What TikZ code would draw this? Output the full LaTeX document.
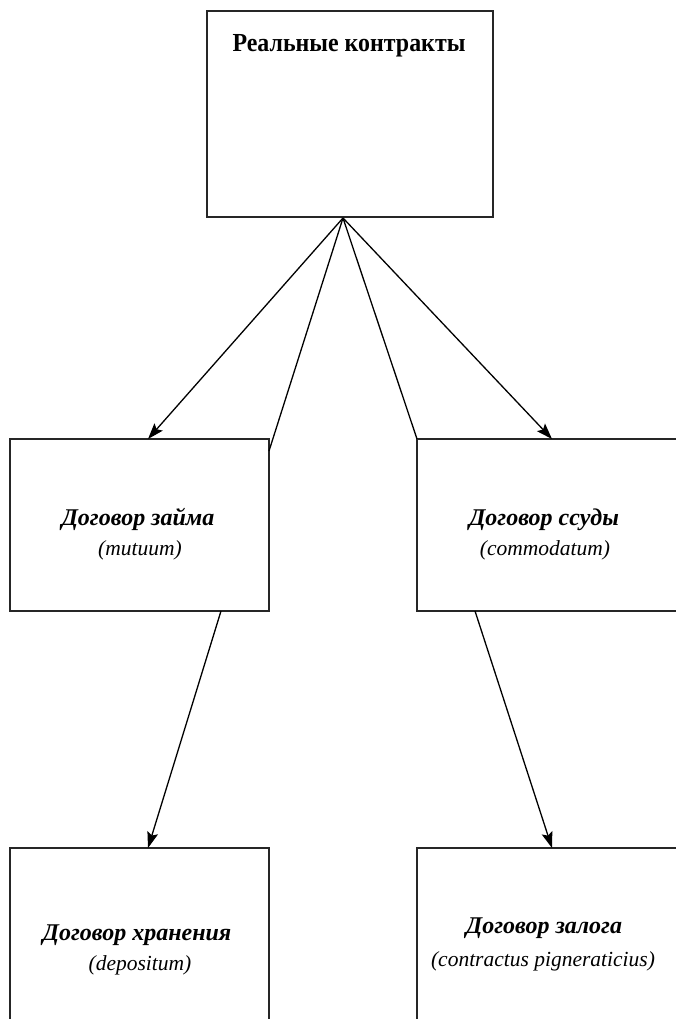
\documentclass[tikz,border=0pt]{standalone}
\usepackage{fontspec}
\setmainfont{Liberation Serif}
\newfontfamily\ttlfont[FakeStretch=0.92]{Liberation Serif}
\usetikzlibrary{arrows.meta}
\begin{document}
\begin{tikzpicture}[x=1pt,y=-1pt,
  box/.style={draw=black!85,line width=1.6pt,rectangle,inner sep=0pt,fill=none},
  ttl/.style={font=\ttlfont\bfseries\fontsize{26}{30}\selectfont,anchor=base,inner sep=0pt},
  nm/.style={font=\bfseries\itshape\fontsize{24}{28}\selectfont,anchor=base,inner sep=0pt},
  lat/.style={font=\itshape\fontsize{21.5}{26}\selectfont,anchor=base,inner sep=0pt},
  conn/.style={line width=1.3pt,black},
  arr/.style={conn,-{Stealth[length=16pt,width=11pt,inset=3pt]}}]
\clip (0,0) rectangle (676,1019);
\fill[white] (0,0) rectangle (676,1019);
% boxes
\node[box,minimum width=286pt,minimum height=206pt] (top) at (350,114) {};
\node[box,minimum width=259pt,minimum height=172pt] (zaim) at (139.5,525) {};
\node[box,minimum width=283pt,minimum height=172pt] (ssud) at (558.5,525) {};
\node[box,minimum width=259pt,minimum height=192pt] (hran) at (139.5,944) {};
\node[box,minimum width=283pt,minimum height=192pt] (zalog) at (558.5,944) {};
% texts
\node[ttl] (t0) at (349,52) {Реальные контракты};
\node[nm] (t1) at (138,525) {Договор займа};
\node[lat] (t1l) at (140,555) {(mutuum)};
\node[nm] (t2) at (544,525) {Договор ссуды};
\node[lat] (t2l) at (545,555) {(commodatum)};
\node[nm] (t3) at (137,940) {Договор хранения};
\node[lat] (t3l) at (140,970) {(depositum)};
\node[nm] (t4) at (544,933) {Договор залога};
\node[lat] (t4l) at (543,966) {(contractus pigneraticius)};
% connector end points
\coordinate (apex) at (343,218);
\coordinate (e1) at (148,439);
\coordinate (e2) at (269,451);
\coordinate (e3) at (417,439);
\coordinate (e4) at (552,439);
\coordinate (s5) at (221,611);
\coordinate (e5) at (148,848);
\coordinate (s6) at (475,611);
\coordinate (e6) at (552,848);
% connectors
\draw[arr] (apex) -- (e1);
\draw[conn] (apex) -- (e2);
\draw[conn] (apex) -- (e3);
\draw[arr] (apex) -- (e4);
\draw[arr] (s5) -- (e5);
\draw[arr] (s6) -- (e6);
\end{tikzpicture}
\end{document}
